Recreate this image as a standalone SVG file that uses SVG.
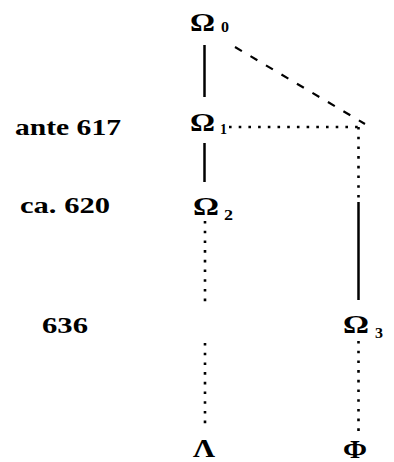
<svg xmlns="http://www.w3.org/2000/svg" width="394" height="462" viewBox="0 0 394 462">
<style>
.big{font-size:25px}
.lab{font-size:23px}
.sub{font-size:14px}
.solid{stroke:#000;stroke-width:2.5;fill:none}
.dot{stroke:#000;stroke-width:2.6;fill:none;stroke-dasharray:2.6 7.1}
.dash{stroke:#000;stroke-width:2.2;fill:none;stroke-dasharray:8 10}
</style>
<rect width="394" height="462" fill="#fff"/>
<g id="connectors">
<line class="solid" x1="204.5" y1="45" x2="204.5" y2="97"/>
<line class="solid" x1="204.5" y1="143" x2="204.5" y2="182"/>
<line class="dash" x1="235" y1="47" x2="365" y2="124"/>
<line class="dot" x1="229" y1="127" x2="360" y2="127"/>
<line class="dot" x1="358.5" y1="127" x2="358.5" y2="199"/>
<line class="solid" x1="358.5" y1="202" x2="358.5" y2="300"/>
<line class="dot" x1="205" y1="221" x2="205" y2="302"/>
<line class="dot" x1="205" y1="343" x2="205" y2="424"/>
<line class="dot" x1="358.5" y1="341" x2="358.5" y2="434"/>
</g>
<g font-family="Liberation Serif, serif" font-weight="bold" fill="#000">
<g id="date-ante617"><text class="lab" x="15" y="135" textLength="106" lengthAdjust="spacingAndGlyphs">ante 617</text></g>
<g id="date-ca620"><text class="lab" x="20" y="213" textLength="90" lengthAdjust="spacingAndGlyphs">ca. 620</text></g>
<g id="date-636"><text class="lab" x="42" y="333" textLength="46" lengthAdjust="spacingAndGlyphs">636</text></g>
<g id="omega0"><text class="big" x="190" y="31" textLength="25" lengthAdjust="spacingAndGlyphs">Ω</text><text class="sub" x="221" y="32" textLength="8" lengthAdjust="spacingAndGlyphs">0</text></g>
<g id="omega1"><text class="big" x="190" y="131" textLength="25" lengthAdjust="spacingAndGlyphs">Ω</text><text class="sub" x="220" y="134" textLength="7" lengthAdjust="spacingAndGlyphs">1</text></g>
<g id="omega2"><text class="big" x="193" y="215" textLength="26" lengthAdjust="spacingAndGlyphs">Ω</text><text class="sub" x="224" y="220" textLength="9" lengthAdjust="spacingAndGlyphs">2</text></g>
<g id="omega3"><text class="big" x="343" y="333" textLength="26" lengthAdjust="spacingAndGlyphs">Ω</text><text class="sub" x="375" y="338" textLength="8" lengthAdjust="spacingAndGlyphs">3</text></g>
<g id="lambda"><text class="big" x="193" y="457" textLength="22" lengthAdjust="spacingAndGlyphs">Λ</text></g>
<g id="phi"><text class="big" x="343" y="458" textLength="24" lengthAdjust="spacingAndGlyphs">Φ</text></g>
</g>
</svg>
